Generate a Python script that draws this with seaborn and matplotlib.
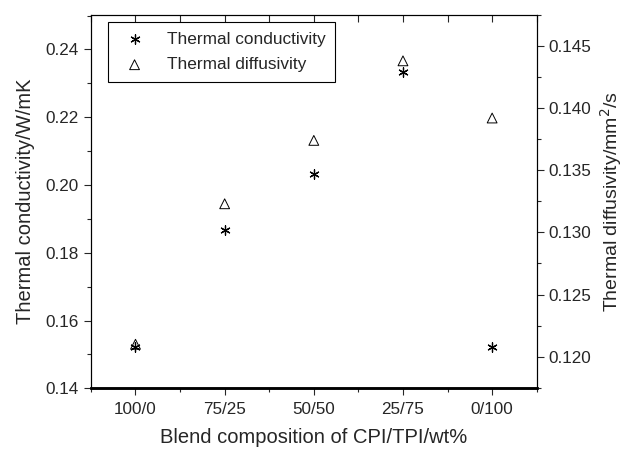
import pandas as pd
import seaborn as sns
import matplotlib.pyplot as plt
from matplotlib.ticker import MultipleLocator

# ============ DATA ============
compositions = ["100/0", "75/25", "50/50", "25/75", "0/100"]
conductivity = [0.1521, 0.1866, 0.2033, 0.2334, 0.1522]   # W/mK, left axis
diffusivity = [0.1210, 0.1323, 0.1374, 0.1438, 0.1392]    # mm2/s, right axis

df = pd.DataFrame({
    "composition": compositions,
    "conductivity": conductivity,
    "diffusivity": diffusivity,
})

# ============ STYLE ============
sns.set_style("ticks")
plt.rcParams["font.family"] = ["Liberation Sans", "DejaVu Sans"]
plt.rcParams["font.size"] = 12

fig = plt.figure(figsize=(6.27, 4.5), dpi=100)
ax = fig.add_axes([0.145, 0.137, 0.711, 0.830])
ax2 = ax.twinx()

asterisk = (6, 2, 0)

sns.scatterplot(data=df, x="composition", y="conductivity", ax=ax,
                marker=asterisk, s=45, color="black", linewidth=0.9,
                label="Thermal conductivity", legend=False)
sns.scatterplot(data=df, x="composition", y="diffusivity", ax=ax2,
                marker="^", s=50, facecolor="none", edgecolor="black",
                linewidth=0.7, label="Thermal diffusivity", legend=False)

# ============ AXES ============
ax.set_xlim(-0.5, len(compositions) - 0.5)
ax.set_ylim(0.14, 0.2502)
ax2.set_ylim(0.11745, 0.1475)

ax.yaxis.set_major_locator(MultipleLocator(0.02))
ax.yaxis.set_minor_locator(MultipleLocator(0.01))
ax.yaxis.set_major_formatter(plt.FormatStrFormatter("%.2f"))
ax2.yaxis.set_major_locator(MultipleLocator(0.005))
ax2.yaxis.set_minor_locator(MultipleLocator(0.0025))
ax2.yaxis.set_major_formatter(plt.FormatStrFormatter("%.3f"))
ax.xaxis.set_minor_locator(MultipleLocator(0.5))

tick_fs = 12.3
ax.tick_params(axis="x", which="major", direction="out", length=5, width=0.8,
               labelsize=tick_fs, pad=5)
ax.tick_params(axis="x", which="minor", direction="out", length=3, width=0.8)
ax.tick_params(axis="y", which="major", direction="out", length=5, width=0.8,
               labelsize=tick_fs)
ax.tick_params(axis="y", which="minor", direction="out", length=3, width=0.8)
ax2.tick_params(axis="y", which="major", direction="out", length=5, width=0.8,
                labelsize=tick_fs)
ax2.tick_params(axis="y", which="minor", direction="out", length=3, width=0.8)
ax.tick_params(axis="x", which="both", top=False)

# top ticks point inward
sec = ax.secondary_xaxis("top")
sec.set_xticks(range(len(compositions)))
sec.xaxis.set_minor_locator(MultipleLocator(0.5))
sec.tick_params(which="both", direction="in", length=5, width=0.8,
                labeltop=False)
sec.spines["top"].set_visible(False)

for a in (ax, ax2):
    for side in ("top", "right", "left"):
        a.spines[side].set_visible(True)
        a.spines[side].set_linewidth(0.8)
        a.spines[side].set_color("black")
    a.spines["bottom"].set_linewidth(1.8)
    a.spines["bottom"].set_color("black")

label_fs = 14.5
ax.set_xlabel("Blend composition of CPI/TPI/wt%", fontsize=label_fs, labelpad=8)
ax.set_ylabel("Thermal conductivity/W/mK", fontsize=label_fs, labelpad=8)
ax2.set_ylabel("Thermal diffusivity/mm$^2$/s", fontsize=14, labelpad=5)

# ============ LEGEND ============
h1, l1 = ax.get_legend_handles_labels()
h2, l2 = ax2.get_legend_handles_labels()
leg = ax2.legend(h1 + h2, l1 + l2, loc="upper left",
                 bbox_to_anchor=(0.038, 0.98), frameon=True, fancybox=False,
                 edgecolor="black", framealpha=1, fontsize=12.4,
                 borderpad=0.55, handletextpad=0.9, labelspacing=0.6,
                 handlelength=2.0, borderaxespad=0)
leg.get_frame().set_linewidth(0.8)

fig.set_facecolor("white")
plt.savefig("out.png", dpi=100)
plt.close()
